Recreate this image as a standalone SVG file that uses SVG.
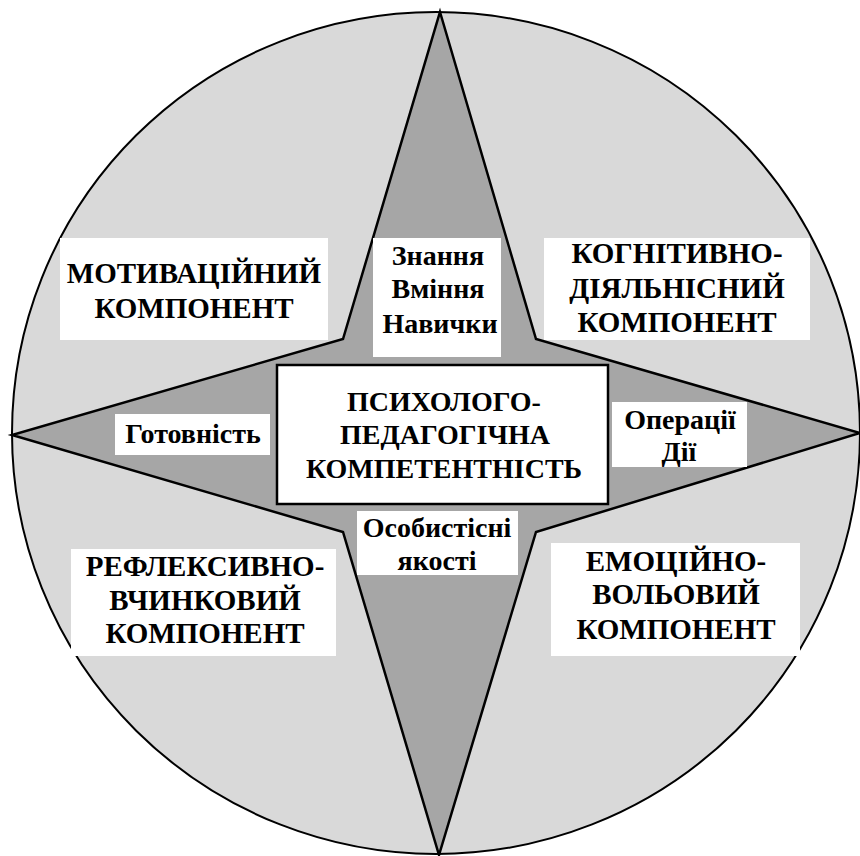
<svg xmlns="http://www.w3.org/2000/svg" width="860" height="856" viewBox="0 0 860 856">
<style>
.bg{fill:#d9d9d9;stroke:#000;stroke-width:2}
.star{fill:#a6a6a6;stroke:#000;stroke-width:2.5;stroke-linejoin:miter}
.box{fill:#fff;stroke:none}
.cbox{fill:#fff;stroke:#000;stroke-width:2.5}
text{font-family:"Liberation Serif","Times New Roman",serif;font-weight:bold;font-size:29px;fill:#000;text-anchor:middle}
.c{font-size:28px}
.s{font-size:28px}
</style>
<rect width="860" height="856" fill="#fff"/>
<g id="circle"><ellipse class="bg" cx="436" cy="433" rx="424" ry="421"/></g>
<g id="star"><polygon class="star" points="440,12 536,339 860,433 536,532 439,855 343,532 12,435 343,339"/></g>
<g id="motivational">
<rect class="box" x="60" y="238" width="268" height="102"/>
<text x="194" y="283">МОТИВАЦІЙНИЙ</text>
<text x="194" y="318">КОМПОНЕНТ</text>
</g>
<g id="cognitive">
<rect class="box" x="544" y="238" width="266" height="102"/>
<text x="677" y="263">КОГНІТИВНО-</text>
<text x="677" y="298">ДІЯЛЬНІСНИЙ</text>
<text x="677" y="332">КОМПОНЕНТ</text>
</g>
<g id="reflexive">
<rect class="box" x="71" y="549" width="265" height="107"/>
<text x="205" y="576">РЕФЛЕКСИВНО-</text>
<text x="205" y="610">ВЧИНКОВИЙ</text>
<text x="205" y="643">КОМПОНЕНТ</text>
</g>
<g id="emotional">
<rect class="box" x="551" y="543" width="249" height="113"/>
<text x="676" y="571">ЕМОЦІЙНО-</text>
<text x="676" y="604">ВОЛЬОВИЙ</text>
<text x="676" y="639">КОМПОНЕНТ</text>
</g>
<g id="knowledge">
<rect class="box" x="373" y="238" width="128" height="119"/>
<text class="s" x="438" y="265">Знання</text>
<text class="s" x="438" y="298">Вміння</text>
<text class="s" x="440" y="333">Навички</text>
</g>
<g id="readiness">
<rect class="box" x="115" y="414" width="155" height="41"/>
<text class="s" x="193" y="443">Готовність</text>
</g>
<g id="operations">
<rect class="box" x="612" y="402" width="135" height="65"/>
<text class="s" x="680" y="429">Операції</text>
<text class="s" x="679" y="461">Дії</text>
</g>
<g id="personal">
<rect class="box" x="357" y="511" width="161" height="64"/>
<text class="s" x="437" y="537">Особистісні</text>
<text class="s" x="437" y="570">якості</text>
</g>
<g id="center">
<rect class="cbox" x="277" y="365" width="331" height="139"/>
<text class="c" x="444" y="411">ПСИХОЛОГО-</text>
<text class="c" x="445" y="444">ПЕДАГОГІЧНА</text>
<text class="c" x="444" y="478">КОМПЕТЕНТНІСТЬ</text>
</g>
</svg>
